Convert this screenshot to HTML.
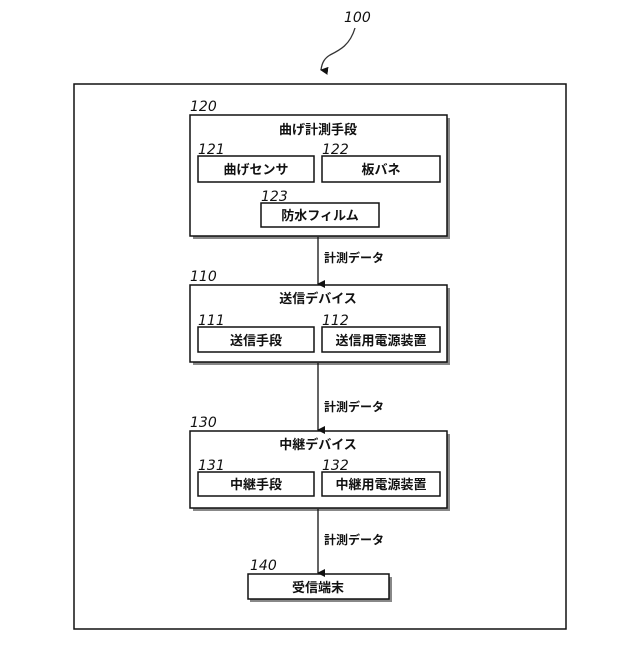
<!DOCTYPE html>
<html><head><meta charset="utf-8"><style>
html,body{margin:0;padding:0;background:#fff;}
svg text{font-family:"Liberation Sans","Noto Sans CJK JP",sans-serif;}
.t{font-size:13px;font-weight:bold;text-anchor:middle;fill:#111;}
.n{font-size:14px;font-style:italic;fill:#111;font-family:"DejaVu Sans","Liberation Sans",sans-serif;}
.l{font-size:12px;font-weight:bold;fill:#111;}
</style></head><body>
<svg width="640" height="640" viewBox="0 0 640 640" xmlns="http://www.w3.org/2000/svg">
<defs>
<marker id="a" markerWidth="8" markerHeight="8" refX="4" refY="7" orient="auto" markerUnits="userSpaceOnUse">
<path d="M0,0 L8,0 L4,8 z" fill="#111"/></marker>
</defs>
<text class="n" x="344" y="22">100</text>
<path d="M355,28 C350,45 340,50 330,55 C325,58 322,62 321,70" fill="none" stroke="#333" stroke-width="1.3" marker-end="url(#a)"/>
<rect x="74" y="84" width="492" height="545" fill="none" stroke="#111" stroke-width="1.5"/>
<g fill="#888">
<rect x="193" y="118" width="257" height="121"/>
<rect x="193" y="288" width="257" height="77"/>
<rect x="193" y="434" width="257" height="77"/>
<rect x="250" y="577" width="142" height="25"/>
</g>
<g fill="#fff" stroke="#111" stroke-width="1.5">
<rect x="190" y="115" width="257" height="121"/>
<rect x="190" y="285" width="257" height="77"/>
<rect x="190" y="431" width="257" height="77"/>
<rect x="248" y="574" width="141" height="25"/>
<rect x="198" y="156" width="116" height="26"/>
<rect x="322" y="156" width="118" height="26"/>
<rect x="261" y="203" width="118" height="24"/>
<rect x="198" y="327" width="116" height="25"/>
<rect x="322" y="327" width="118" height="25"/>
<rect x="198" y="472" width="116" height="24"/>
<rect x="322" y="472" width="118" height="24"/>
</g>
<text class="n" x="190" y="111">120</text>
<text class="t" x="318" y="134">曲げ計測手段</text>
<text class="n" x="198" y="154">121</text>
<text class="n" x="322" y="154">122</text>
<text class="t" x="256" y="174">曲げセンサ</text>
<text class="t" x="381" y="174">板バネ</text>
<text class="n" x="261" y="201">123</text>
<text class="t" x="320" y="220">防水フィルム</text>
<g stroke="#111" stroke-width="1.3" marker-end="url(#a)">
<line x1="318" y1="237" x2="318" y2="284"/>
<line x1="318" y1="363" x2="318" y2="430"/>
<line x1="318" y1="509" x2="318" y2="573"/>
</g>
<text class="l" x="324" y="262">計測データ</text>
<text class="l" x="324" y="411">計測データ</text>
<text class="l" x="324" y="544">計測データ</text>
<text class="n" x="190" y="281">110</text>
<text class="t" x="318" y="303">送信デバイス</text>
<text class="n" x="198" y="325">111</text>
<text class="n" x="322" y="325">112</text>
<text class="t" x="256" y="345">送信手段</text>
<text class="t" x="381" y="345">送信用電源装置</text>
<text class="n" x="190" y="427">130</text>
<text class="t" x="318" y="449">中継デバイス</text>
<text class="n" x="198" y="470">131</text>
<text class="n" x="322" y="470">132</text>
<text class="t" x="256" y="489">中継手段</text>
<text class="t" x="381" y="489">中継用電源装置</text>
<text class="n" x="250" y="570">140</text>
<text class="t" x="318" y="592">受信端末</text>
</svg>
</body></html>
